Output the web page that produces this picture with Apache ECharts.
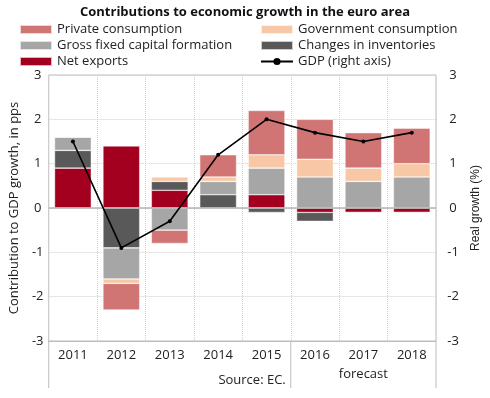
<!DOCTYPE html>
<html>
<head>
<meta charset="utf-8">
<script src="https://cdn.jsdelivr.net/npm/echarts@6/dist/echarts.min.js"></script>
<style>
html,body{margin:0;padding:0;background:#fff;}
#chart{width:490px;height:398px;}
</style>
</head>
<body>
<div id="chart"></div>
<script>
var categories = ['2011','2012','2013','2014','2015','2016','2017','2018'];
var privateConsumption = [0, -0.6, -0.3, 0.5, 1.0, 0.9, 0.8, 0.8];
var governmentConsumption = [0, -0.1, 0.1, 0.1, 0.3, 0.4, 0.3, 0.3];
var grossFixedCapital = [0.3, -0.7, -0.5, 0.3, 0.6, 0.7, 0.6, 0.7];
var inventories = [0.4, -0.9, 0.2, 0.3, -0.1, -0.2, 0, 0];
var netExports = [0.9, 1.4, 0.4, 0, 0.3, -0.1, -0.1, -0.1];
var gdp = [1.5, -0.9, -0.3, 1.2, 2.0, 1.7, 1.5, 1.7];
var forecastStart = '2016';

var FONT = 'Open Sans';
var chart = echarts.init(document.getElementById('chart'));
var barBorder = {borderColor: 'rgba(255,255,255,0.7)', borderWidth: 0.6};
function barSeries(name, data, color) {
  return {
    name: name, type: 'bar', stack: 'c', data: data, barWidth: '76%',
    itemStyle: Object.assign({color: color}, barBorder)
  };
}
var series = [
  barSeries('Net exports', netExports, '#A3001F'),
  barSeries('Changes in inventories', inventories, '#595959'),
  barSeries('Gross fixed capital formation', grossFixedCapital, '#A6A6A6'),
  barSeries('Government consumption', governmentConsumption, '#F8C8A6'),
  barSeries('Private consumption', privateConsumption, '#D07474'),
  {
    name: 'GDP (right axis)', type: 'line', yAxisIndex: 1, data: gdp,
    symbol: 'circle', symbolSize: 4,
    lineStyle: {color: '#000', width: 1.6}, itemStyle: {color: '#000'},
    z: 5
  }
];
series[0].markLine = {
  silent: true, symbol: 'none', label: {show: false},
  lineStyle: {color: '#b5b5b5', type: 'solid', width: 1.5},
  data: [{yAxis: 0}]
};
var legendText = {fontFamily: FONT, fontSize: 13, color: '#222'};
chart.setOption({
  animation: false,
  title: {
    text: 'Contributions to economic growth in the euro area',
    left: 'center', top: 1,
    textStyle: {fontFamily: FONT, fontSize: 13, fontWeight: 'bold', color: '#111'}
  },
  legend: [
    {data: ['Private consumption', 'Gross fixed capital formation', 'Net exports'],
     orient: 'vertical', left: 14, top: 18, itemGap: 3, itemWidth: 32, itemHeight: 9,
     textStyle: legendText, icon: 'rect'},
    {data: [{name: 'Government consumption', icon: 'rect'}, {name: 'Changes in inventories', icon: 'rect'},
            {name: 'GDP (right axis)', itemStyle: {borderWidth: 0}}],
     orient: 'vertical', left: 255, top: 18, itemGap: 3, itemWidth: 32, itemHeight: 9,
     textStyle: legendText}
  ],
  grid: {left: 43, right: 48, top: 75, bottom: 57, show: true, borderColor: '#bdbdbd', borderWidth: 1},
  xAxis: {
    type: 'category', data: categories,
    axisLine: {onZero: false, lineStyle: {color: '#bdbdbd'}},
    axisTick: {show: false},
    axisLabel: {fontFamily: FONT, fontSize: 13, color: '#222', margin: 8},
    splitLine: {show: true, lineStyle: {color: '#cfcfcf', type: 'dotted'}}
  },
  yAxis: [
    {type: 'value', min: -3, max: 3, interval: 1,
     name: 'Contribution to GDP growth, in pps', nameLocation: 'middle', nameGap: 26,
     nameTextStyle: {fontFamily: FONT, fontSize: 13, color: '#222'},
     axisLine: {show: false}, axisTick: {show: false},
     axisLabel: {fontFamily: FONT, fontSize: 13, color: '#222', margin: 11, align: 'center'},
     splitLine: {lineStyle: {color: '#cfcfcf', type: 'dotted'}}},
    {type: 'value', min: -3, max: 3, interval: 1, position: 'right',
     name: 'Real growth (%)', nameLocation: 'middle', nameGap: 34, nameRotate: 90,
     nameTextStyle: {fontFamily: 'Liberation Sans', fontSize: 12, color: '#222'},
     axisLine: {show: false}, axisTick: {show: false},
     axisLabel: {fontFamily: FONT, fontSize: 13, color: '#222', margin: 17, align: 'center'},
     splitLine: {show: false}}
  ],
  series: series
});

// decorations below the axis: boundaries of the actual / forecast periods
function addDecor() {
  var n = categories.length;
  var fi = categories.indexOf(forecastStart);
  var x0 = chart.convertToPixel({xAxisIndex: 0}, categories[0]);
  var x1 = chart.convertToPixel({xAxisIndex: 0}, categories[1]);
  var step = x1 - x0;
  var left = x0 - step / 2;
  var split = left + step * fi;
  var right = left + step * n;
  var yb = chart.convertToPixel({yAxisIndex: 0}, -3);
  var lineStyle = {stroke: '#bdbdbd', lineWidth: 1};
  chart.setOption({
    graphic: [
      {type: 'line', shape: {x1: left, y1: yb, x2: left, y2: yb + 47}, style: lineStyle, silent: true},
      {type: 'line', shape: {x1: split, y1: yb, x2: split, y2: yb + 47}, style: lineStyle, silent: true},
      {type: 'line', shape: {x1: right, y1: yb, x2: right, y2: yb + 47}, style: lineStyle, silent: true},
      {type: 'text', x: split - 5, y: yb + 33, style: {text: 'Source: EC.', fill: '#222', font: '13px "Open Sans"', textAlign: 'right'}},
      {type: 'text', x: (split + right) / 2, y: yb + 27, style: {text: 'forecast', fill: '#222', font: '13px "Open Sans"', textAlign: 'center'}}
    ]
  });
}
addDecor();
</script>
</body>
</html>
